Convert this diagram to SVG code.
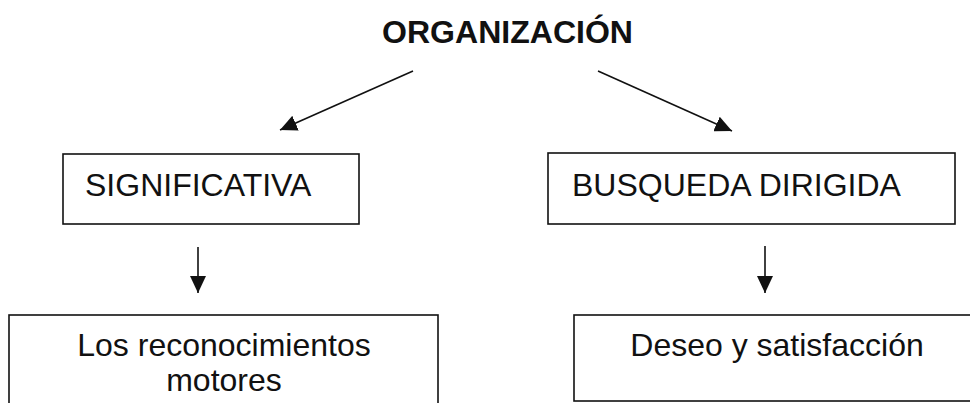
<svg xmlns="http://www.w3.org/2000/svg" width="970" height="403" viewBox="0 0 970 403">
<style>
text { font-family: "Liberation Sans", Arial, sans-serif; font-size: 32px; fill: #111; }
.title { font-weight: bold; }
.box { fill: #fff; stroke: #111; stroke-width: 1.6; }
.conn { stroke: #111; stroke-width: 1.6; fill: none; marker-end: url(#ah); }
</style>
<defs>
<marker id="ah" markerUnits="userSpaceOnUse" markerWidth="18" markerHeight="16" viewBox="0 0 18 16" refX="17" refY="8" orient="auto">
<path d="M0,0 L17,8 L0,16 z" fill="#111"/>
</marker>
</defs>
<rect width="970" height="403" fill="#fff"/>
<g id="organizacion">
<text class="title" x="507.5" y="43" text-anchor="middle" textLength="251" lengthAdjust="spacingAndGlyphs">ORGANIZACIÓN</text>
</g>
<g id="significativa">
<rect class="box" x="63" y="154" width="296" height="70"/>
<text x="85" y="196">SIGNIFICATIVA</text>
</g>
<g id="busqueda">
<rect class="box" x="548" y="153" width="407" height="71"/>
<text x="572" y="196">BUSQUEDA DIRIGIDA</text>
</g>
<g id="reconocimientos">
<rect class="box" x="9" y="315" width="429" height="100"/>
<text x="224" y="356" text-anchor="middle">Los reconocimientos</text>
<text x="224" y="391" text-anchor="middle">motores</text>
</g>
<g id="deseo">
<rect class="box" x="574" y="315" width="410" height="86"/>
<text x="777" y="356" text-anchor="middle">Deseo y satisfacción</text>
</g>
<g id="connectors">
<line class="conn" x1="413" y1="71" x2="280" y2="130"/>
<line class="conn" x1="598" y1="71" x2="732" y2="131"/>
<line class="conn" x1="198" y1="247" x2="198" y2="293"/>
<line class="conn" x1="765" y1="246" x2="765" y2="293"/>
</g>
</svg>
